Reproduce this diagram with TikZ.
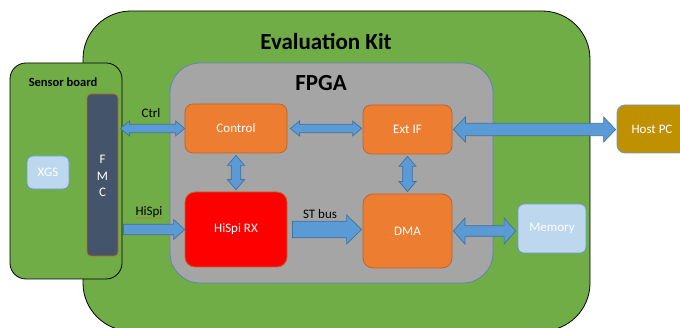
\documentclass[tikz,border=0pt]{standalone}
\usepackage{fontspec}
\setmainfont{Carlito}
\usetikzlibrary{calc,decorations.pathmorphing}

\definecolor{kitgreen}{HTML}{70AD47}
\definecolor{fpgagray}{HTML}{A5A5A5}
\definecolor{fpgaedge}{HTML}{5A86B8}
\definecolor{orangefill}{HTML}{ED7D31}
\definecolor{orangeedge}{HTML}{C0652A}
\definecolor{rxred}{HTML}{FF0000}
\definecolor{lightblue}{HTML}{BDD7EE}
\definecolor{lightedge}{HTML}{6A9BD0}
\definecolor{fmcslate}{HTML}{44546A}
\definecolor{hostgold}{HTML}{BF9000}
\definecolor{arrowfill}{HTML}{5B9BD5}
\definecolor{arrowedge}{HTML}{41719C}
\definecolor{spellred}{HTML}{D9543A}

\tikzset{
  block/.style={rounded corners=8pt, draw=orangeedge, fill=orangefill, text=white,
    font=\fontsize{13}{15}\selectfont, line width=0.8pt, inner sep=0pt},
  lightbox/.style={block, fill=lightblue, draw=lightedge, rounded corners=6pt},
  fat/.style={fill=arrowfill, draw=arrowedge, line width=0.7pt, line join=miter},
  title/.style={font=\fontsize{23}{25}\selectfont\bfseries, text=black, inner sep=0pt},
  lbl/.style={font=\fontsize{13}{15}\selectfont, text=black, inner sep=0pt},
}

% horizontal double-headed fat arrow: from, to, shaft half width, head half width, head length
\newcommand\fatHdouble[5]{\draw[fat] let \p1=#1, \p2=#2 in
  (\x1,\y1) -- (\x1+#5,\y1+#4) -- (\x1+#5,\y1+#3) -- (\x2-#5,\y1+#3) -- (\x2-#5,\y1+#4)
  -- (\x2,\y1) -- (\x2-#5,\y1-#4) -- (\x2-#5,\y1-#3) -- (\x1+#5,\y1-#3) -- (\x1+#5,\y1-#4) -- cycle;}
% horizontal single-headed fat arrow
\newcommand\fatHsingle[5]{\draw[fat] let \p1=#1, \p2=#2 in
  (\x1,\y1+#3) -- (\x2-#5,\y1+#3) -- (\x2-#5,\y1+#4) -- (\x2,\y1)
  -- (\x2-#5,\y1-#4) -- (\x2-#5,\y1-#3) -- (\x1,\y1-#3) -- cycle;}
% vertical double-headed fat arrow (first point is the upper one)
\newcommand\fatVdouble[5]{\draw[fat] let \p1=#1, \p2=#2 in
  (\x1,\y1) -- (\x1+#4,\y1-#5) -- (\x1+#3,\y1-#5) -- (\x1+#3,\y2+#5) -- (\x1+#4,\y2+#5)
  -- (\x1,\y2) -- (\x1-#4,\y2+#5) -- (\x1-#3,\y2+#5) -- (\x1-#3,\y1-#5) -- (\x1-#4,\y1-#5) -- cycle;}

\begin{document}
\begin{tikzpicture}[x=1pt, y=-1pt]
\useasboundingbox (0,0) rectangle (680,328);
\clip (0,0) rectangle (680,328);

% enclosing boards
\node[draw=black, fill=kitgreen, line width=0.8pt, rounded corners=48pt,
      minimum width=507pt, minimum height=320pt] (kit) at (336.5,171) {};
\node[draw=fpgaedge, fill=fpgagray, line width=0.8pt, rounded corners=30pt,
      minimum width=323pt, minimum height=220pt] (fpga) at (331.5,173) {};
\node[draw=black, fill=kitgreen, line width=0.8pt, rounded corners=16pt,
      minimum width=112pt, minimum height=216pt] (sensor) at (66,171) {};

\node[title] at (326,42) {Evaluation Kit};
\node[title] at (321,83) {FPGA};
\node[font=\fontsize{12.5}{14}\selectfont\bfseries, inner sep=0pt] at (63,82) {Sensor board};

% sensor board parts
\node[block, fill=fmcslate, draw=orangeedge, rounded corners=4pt,
      minimum width=31pt, minimum height=162pt] (fmc) at (102.5,175) {};
\node[lbl, text=white, align=center, font=\fontsize{13}{16.5}\selectfont] at (102.5,176) {F\\M\\C};
\node[lightbox, minimum width=42pt, minimum height=33pt] (xgs) at (48,172.5) {XGS};

% FPGA blocks
\node[block, minimum width=102pt, minimum height=49pt] (ctl) at (236,128.5) {Control};
\node[block, fill=rxred, draw=orangeedge, rounded corners=10pt,
      minimum width=102pt, minimum height=75pt] (rx) at (236,229.5) {HiSpi RX};
\node[block, minimum width=89pt, minimum height=49pt] (ext) at (407.5,129.5) {Ext IF};
\node[block, rounded corners=10pt, minimum width=89pt, minimum height=74pt] (dma) at (407.5,231) {DMA};

% external parts
\node[lightbox, minimum width=68pt, minimum height=49pt] (mem) at (552,228.5) {Memory};
\node[block, fill=hostgold, draw=lightedge, minimum width=70pt, minimum height=48pt] (host) at (652,129) {Host PC};

% connectors
\fatHdouble{($(fmc.east |- ctl.west)+(2,0)$)}{(ctl.west)}{4.2pt}{7.5pt}{9pt}
\fatHdouble{($(ctl.east)+(3,0)$)}{($(ext.west)+(-1,0)$)}{4.2pt}{7.5pt}{9pt}
\fatVdouble{($(ctl.south)+(0,2)$)}{($(rx.north)+(0,-2)$)}{4.8pt}{8.5pt}{10pt}
\fatVdouble{($(ext.south)+(0,2)$)}{($(dma.north)+(0,-2)$)}{4.8pt}{8.5pt}{10pt}
\fatHsingle{($(fmc.east |- rx.west)+(5,0)$)}{(rx.west)}{5.2pt}{10pt}{11pt}
\fatHsingle{($(rx.east)+(5,0)$)}{($(dma.west)+(-1,0)$)}{8.3pt}{14.5pt}{15pt}
\fatHdouble{($(dma.east)+(1,0)$)}{($(mem.west)+(-2,0)$)}{5.3pt}{13pt}{11.5pt}
\fatHdouble{($(ext.east)+(1,0)$)}{($(host.west)+(-1,0)$)}{6.2pt}{12.5pt}{12pt}

% connector labels
\node[lbl] at (151,113) {Ctrl};
\node[lbl] (hispilbl) at (149,212) {HiSpi};
\node[lbl] at (320,214) {ST bus};
% spell-check squiggle under the HiSpi label
\draw[spellred, opacity=0.7, line width=0.35pt, decorate,
      decoration={snake, amplitude=0.4pt, segment length=1.6pt}]
  ($(hispilbl.base west)+(0,2.6)$) -- ($(hispilbl.base east)+(0,2.6)$);
\end{tikzpicture}
\end{document}
